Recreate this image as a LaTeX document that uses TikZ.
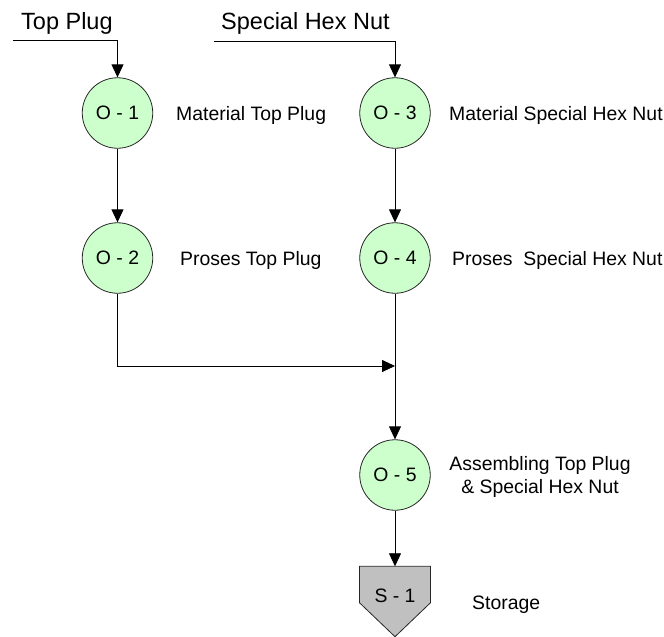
\documentclass[tikz,border=0pt]{standalone}
\usepackage{fontspec}
\setmainfont{Liberation Sans}
\usetikzlibrary{arrows.meta,backgrounds,calc}
\definecolor{opgreen}{RGB}{204,255,204}
\definecolor{stgray}{RGB}{192,192,192}
\begin{document}
\begin{tikzpicture}[x=1pt,y=-1pt,
  op/.style={circle,draw=black!85,line width=0.8pt,fill=opgreen,minimum size=70.5pt,inner sep=0pt,
    font=\fontsize{19.4}{23}\selectfont},
  lbl/.style={inner sep=0pt,font=\fontsize{19.4}{23}\selectfont},
  hdr/.style={inner sep=0pt,font=\fontsize{23.5}{28}\selectfont},
  arr/.style={line width=0.8pt,-{Triangle[length=13pt,width=12pt]}},
  ln/.style={line width=0.8pt}]
\useasboundingbox (0,0) rectangle (664,637);

% headers
\node[hdr,anchor=base west] (hTop) at (21,29) {Top Plug};
\node[hdr,anchor=base west] (hHex) at (221,29) {Special Hex Nut};

% operations
\node[op] (o1) at (117.5,113) {O - 1};
\node[op] (o2) at (117.5,258) {O - 2};
\node[op] (o3) at (395,113) {O - 3};
\node[op] (o4) at (395,258) {O - 4};
\node[op] (o5) at (395,475) {O - 5};

% storage
\node[inner xsep=0pt,inner ysep=0.5pt,minimum width=70.7pt,text height=35pt,text depth=0pt,
  anchor=base,font=\fontsize{19.4}{23}\selectfont] (s1) at (395,602) {S - 1};
\begin{scope}[on background layer]
\filldraw[fill=stgray,draw=black!85,line width=0.8pt,line join=miter]
  (s1.north west) -- (s1.north east) -- (s1.south east) -- ($(s1.south)+(0,34)$)
  -- (s1.south west) -- cycle;
\end{scope}

% side labels
\node[lbl,anchor=base west] (l1) at (176,120) {Material Top Plug};
\node[lbl,anchor=base west] (l3) at (449,120) {Material Special Hex Nut};
\node[lbl,anchor=base west] (l2) at (180,265) {Proses Top Plug};
\node[lbl,anchor=base west] (l4) at (452,265) {Proses\ \ Special Hex Nut};
\node[lbl,align=center,anchor=center] (l5) at (540,477) {Assembling Top Plug\\\& Special Hex Nut};
\node[lbl,anchor=base west] (ls) at (472,609) {Storage};

% connectors
\coordinate (tpstart) at (13,40);
\coordinate (hxstart) at (214,41);
\coordinate (join) at (395,366);
\draw[arr] (tpstart) -| (o1);
\draw[arr] (hxstart) -| (o3);
\draw[arr] (o1) -- (o2);
\draw[arr] (o3) -- (o4);
\draw[arr] (o2) |- (join);
\draw[arr] (o4) -- (o5);
\draw[arr] (o5) -- (s1);
\end{tikzpicture}
\end{document}
